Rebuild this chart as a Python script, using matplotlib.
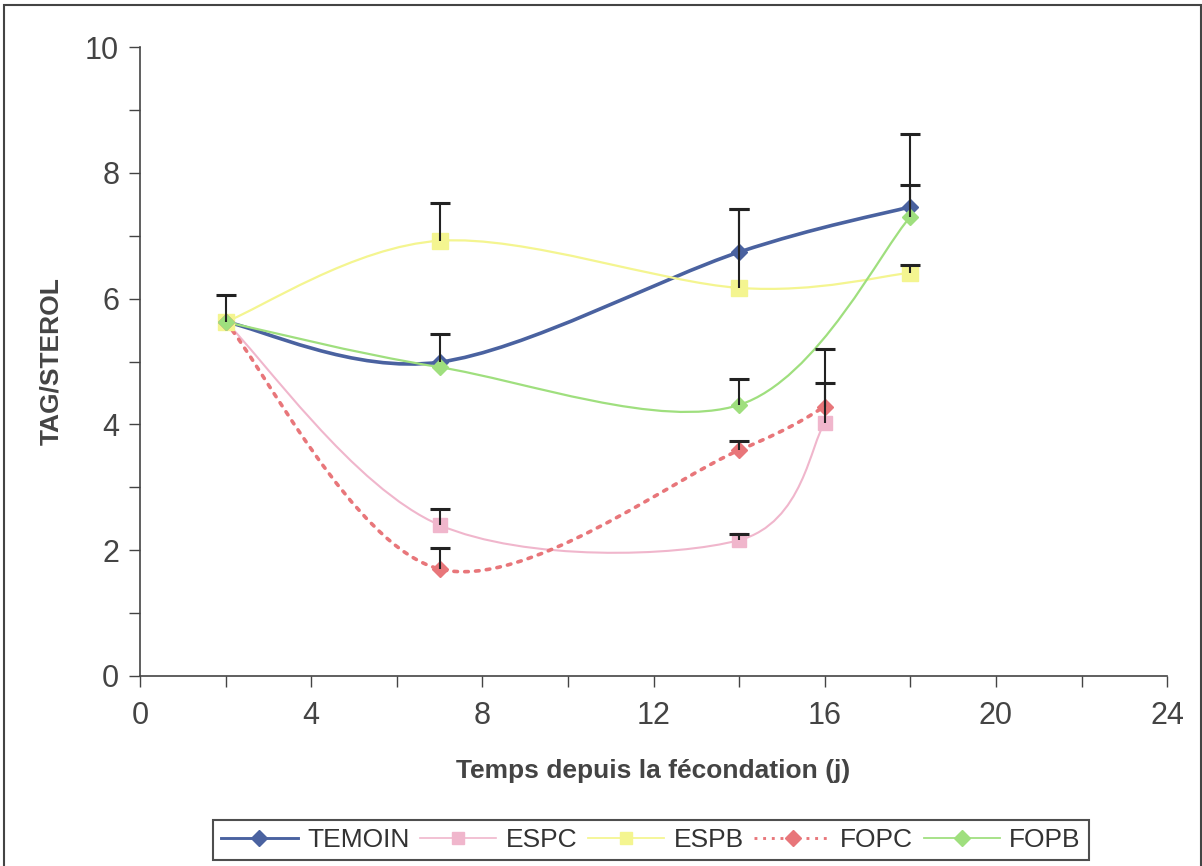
import numpy as np
import matplotlib
matplotlib.use("Agg")
import matplotlib.pyplot as plt
from matplotlib.path import Path
from matplotlib.patches import PathPatch, Rectangle
from matplotlib.lines import Line2D

plt.rcParams['font.family'] = ['Liberation Sans', 'DejaVu Sans']

# ---------------- data ----------------
temoin_x = [2, 7, 14, 18]
temoin_y = [5.63, 4.99, 6.74, 7.46]
temoin_err = [0.43, 0.45, 0.68, 1.16]

espc_x = [2, 7, 14, 16]
espc_y = [5.63, 2.40, 2.16, 4.02]
espc_err = [0.0, 0.25, 0.10, 0.64]

espb_x = [2, 7, 14, 18]
espb_y = [5.63, 6.92, 6.17, 6.41]
espb_err = [0.0, 0.60, 1.25, 0.12]

fopc_x = [2, 7, 14, 16]
fopc_y = [5.63, 1.70, 3.59, 4.28]
fopc_err = [0.0, 0.33, 0.15, 0.92]

fopb_x = [2, 7, 14, 18]
fopb_y = [5.63, 4.91, 4.31, 7.30]
fopb_err = [0.0, 0.0, 0.41, 0.50]

labels = ["TEMOIN", "ESPC", "ESPB", "FOPC", "FOPB"]
x_ticks = [0, 4, 8, 12, 16, 20, 24]
y_ticks = [0, 2, 4, 6, 8, 10]

series = [
    (temoin_x, temoin_y, temoin_err, dict(color="#4a62a0", lw=2.6, ls="-", marker="D", ms=10)),
    (espc_x, espc_y, espc_err, dict(color="#f0b6cc", lw=1.5, ls="-", marker="s", ms=10)),
    (espb_x, espb_y, espb_err, dict(color="#f4f590", lw=1.6, ls="-", marker="s", ms=11)),
    (fopc_x, fopc_y, fopc_err, dict(color="#e8767a", lw=2.6, ls=(0, (1, 2)), marker="D", ms=10)),
    (fopb_x, fopb_y, fopb_err, dict(color="#9fdf7e", lw=1.6, ls="-", marker="D", ms=10)),
]


def smooth_path(xs, ys):
    pts = np.column_stack([xs, ys]).astype(float)
    n = len(pts)
    verts = [pts[0]]
    codes = [Path.MOVETO]
    for i in range(n - 1):
        p0 = pts[i - 1] if i > 0 else pts[i]
        p1 = pts[i]
        p2 = pts[i + 1]
        p3 = pts[i + 2] if i + 2 < n else pts[i + 1]
        c1 = p1 + (p2 - p0) / 6.0
        c2 = p2 - (p3 - p1) / 6.0
        verts += [c1, c2, p2]
        codes += [Path.CURVE4] * 3
    return Path(verts, codes)


fig = plt.figure(figsize=(12.02, 8.66), dpi=100)
ax = fig.add_axes([0.1165, 0.2194, 0.9710 - 0.1165, 0.9457 - 0.2194])

handles = []
for i, (xs, ys, err, st) in enumerate(series):
    patch = PathPatch(smooth_path(xs, ys), facecolor="none", edgecolor=st["color"],
                      lw=st["lw"], ls=st["ls"], zorder=2 + i * 0.1, capstyle="round")
    ax.add_patch(patch)
    ax.plot(xs, ys, ls="none", marker=st["marker"], ms=st["ms"] * (0.8 if st["marker"] == "D" else 1),
            color=st["color"], mec=st["color"], zorder=3 + i * 0.1)
    # upward error bars (plus only)
    ex = np.array([x for x, e in zip(xs, err) if e > 0])
    ey = np.array([y for y, e in zip(ys, err) if e > 0])
    ee = np.array([e for e in err if e > 0])
    ax.vlines(ex, ey, ey + ee, colors="#222222", lw=1.5, zorder=4)
    ax.plot(ex, ey + ee, ls="none", marker="_", ms=15, mew=2.2, color="#222222", zorder=4)
    handles.append(Line2D([], [], color=st["color"], lw=st["lw"] * 0.8, ls=st["ls"],
                          marker=st["marker"], ms=st["ms"] * 0.8, mec=st["color"]))

ax.set_xlim(0, 24)
ax.set_ylim(0, 10)
ax.set_xticks(x_ticks)
ax.set_xticks(np.arange(0, 25, 2), minor=True)
ax.set_yticks(y_ticks)
ax.set_yticks(np.arange(0, 11, 1), minor=True)
ax.tick_params(which="both", direction="out", length=8, width=1, color="#444444",
               labelsize=22, labelcolor="#444444")
ax.tick_params(axis="x", pad=10)
ax.tick_params(axis="y", pad=7)
for s in ["top", "right"]:
    ax.spines[s].set_visible(False)
for s in ["left", "bottom"]:
    ax.spines[s].set_color("#444444")
    ax.spines[s].set_linewidth(1.2)

ax.set_xlabel("Temps depuis la fécondation (j)", fontsize=19, fontweight="bold",
              color="#444444", labelpad=20)
ax.set_ylabel("TAG/STEROL", fontsize=19, fontweight="bold", color="#444444", labelpad=16)

leg = fig.legend(handles, labels, loc="center", bbox_to_anchor=(0.5416, 0.030), ncol=5,
                 fontsize=19, frameon=True, fancybox=False, handlelength=2.9,
                 columnspacing=0.4, handletextpad=0.35, borderpad=0.3, borderaxespad=0)
leg.get_frame().set_edgecolor("#222222")
leg.get_frame().set_linewidth(1.5)
for t in leg.get_texts():
    t.set_color("#333333")

fig.patches.append(Rectangle((0.003, -0.01), 0.996, 1.004, transform=fig.transFigure,
                             fill=False, edgecolor="#444444", lw=1.5))

fig.savefig("out.png", dpi=100)
